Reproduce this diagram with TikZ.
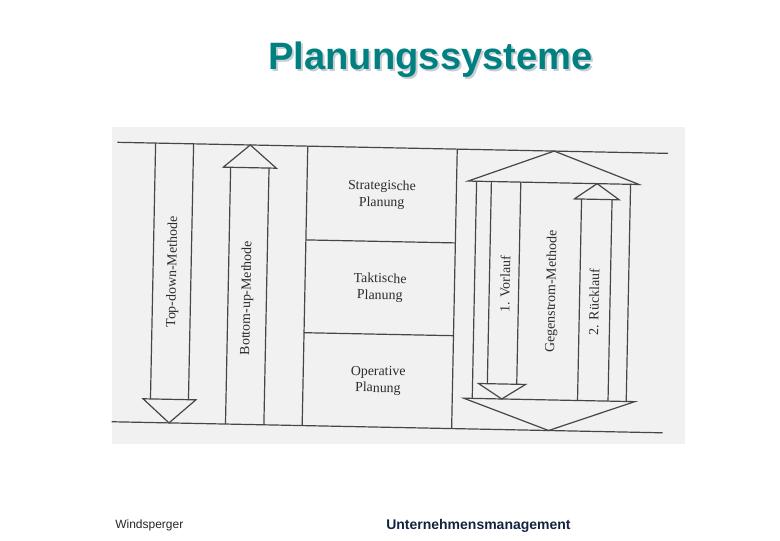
\documentclass[tikz,border=0pt]{standalone}
\usepackage{xcolor}
\usepackage{fontspec}
\usepackage{tikz}
\setmainfont{Liberation Serif}
\newfontfamily\arialfont{Liberation Sans}
\definecolor{titleteal}{RGB}{0,128,128}
\definecolor{titleshadow}{RGB}{200,205,210}
\definecolor{footnavy}{RGB}{20,36,64}
\definecolor{scanbg}{RGB}{241,241,241}
\definecolor{scanline}{RGB}{70,70,70}
\definecolor{scantext}{RGB}{45,45,45}

\tikzset{
    scan/.style={draw=scanline,line width=0.9pt,line join=miter},
    level/.style={font=\fontsize{10.4}{12.5}\selectfont,text=scantext,align=center,inner sep=0pt},
    methode/.style={font=\fontsize{10.4}{12.5}\selectfont,text=scantext,rotate=90,inner sep=0pt}
}

\begin{document}
\begin{tikzpicture}[x=0.75pt,y=-0.75pt]
    \useasboundingbox (0,0) rectangle (780,540);
    % title with shadow
    \node[font=\arialfont\bfseries\fontsize{28.6}{32}\selectfont,text=titleshadow,anchor=base] at (432.5,71.5) {Planungssysteme};
    \node (title)[font=\arialfont\bfseries\fontsize{28.6}{32}\selectfont,text=titleteal,anchor=base] at (430.5,69.5) {Planungssysteme};

    % scanned figure
    \fill[scanbg] (112,127) rectangle (685,444);
    \begin{scope}[rotate around={-1.15:(390,285)},transform shape]
        % top and bottom rules
        \draw[scan] (114.5,147.8) -- (665.5,147.8);
        \draw[scan] (114.5,427.3) -- (665.5,427.3);

        % top-down arrow
        \draw[scan] (152.8,147.8) -- (152.8,403.7);
        \draw[scan] (190.8,147.8) -- (190.8,403.7);
        \draw[scan] (145.4,403.7) -- (198.2,403.7) -- (171.8,427.3) -- cycle;
        \node (topdown)[methode] at (172.7,276.4) {Top-down-Methode};

        % bottom-up arrow
        \draw[scan] (228.3,170.5) -- (228.3,427.3);
        \draw[scan] (266.7,170.5) -- (266.7,427.3);
        \draw[scan] (221,170.5) -- (274,170.5) -- (247.5,147.8) -- cycle;
        \node (bottomup)[methode] at (247.3,300.9) {Bottom-up-Methode};

        % planning levels
        \draw[scan] (305,147.8) -- (305,427.3);
        \draw[scan] (454.5,147.8) -- (454.5,427.3);
        \draw[scan] (305,241.6) -- (454.5,241.6);
        \draw[scan] (305,334.4) -- (454.5,334.4);
        \node (strat)[level] at (380,195) {Strategische\\Planung};
        \node (takt)[level] at (380,288) {Taktische\\Planung};
        \node (oper)[level] at (380,381) {Operative\\Planung};

        % counter-current arrow
        \draw[scan] (474.5,179.5) -- (474.5,396.7);
        \draw[scan] (628.5,179.5) -- (628.5,396.7);
        \draw[scan] (466,179.5) -- (637,179.5) -- (551.5,147.8) -- cycle;
        \draw[scan] (466,396.7) -- (637,396.7) -- (551.5,427.3) -- cycle;
        \node (gegen)[methode] at (552.1,288.3) {Gegenstrom-Methode};

        % Vorlauf
        \draw[scan] (489.3,179.5) -- (489.3,381.7);
        \draw[scan] (518.7,179.5) -- (518.7,381.7);
        \draw[scan] (480.5,381.7) -- (527.5,381.7) -- (504,396.7) -- cycle;
        \node (vorlauf)[methode] at (505,281.7) {1. Vorlauf};

        % Ruecklauf
        \draw[scan] (579.8,195.2) -- (579.8,396.7);
        \draw[scan] (610.3,195.2) -- (610.3,396.7);
        \draw[scan] (572.6,195.2) -- (617.4,195.2) -- (595,179.5) -- cycle;
        \node (rueck)[methode] at (594.3,297.9) {2. Rücklauf};
    \end{scope}

    % footer
    \node (autor)[font=\arialfont\fontsize{9}{11}\selectfont,text=black!85,anchor=base west,inner sep=0pt] at (115,528.5) {Windsperger};
    \node (fach)[font=\arialfont\bfseries\fontsize{10.5}{12}\selectfont,text=footnavy,anchor=base west,inner sep=0pt] at (386,529) {Unternehmensmanagement};
\end{tikzpicture}
\end{document}
